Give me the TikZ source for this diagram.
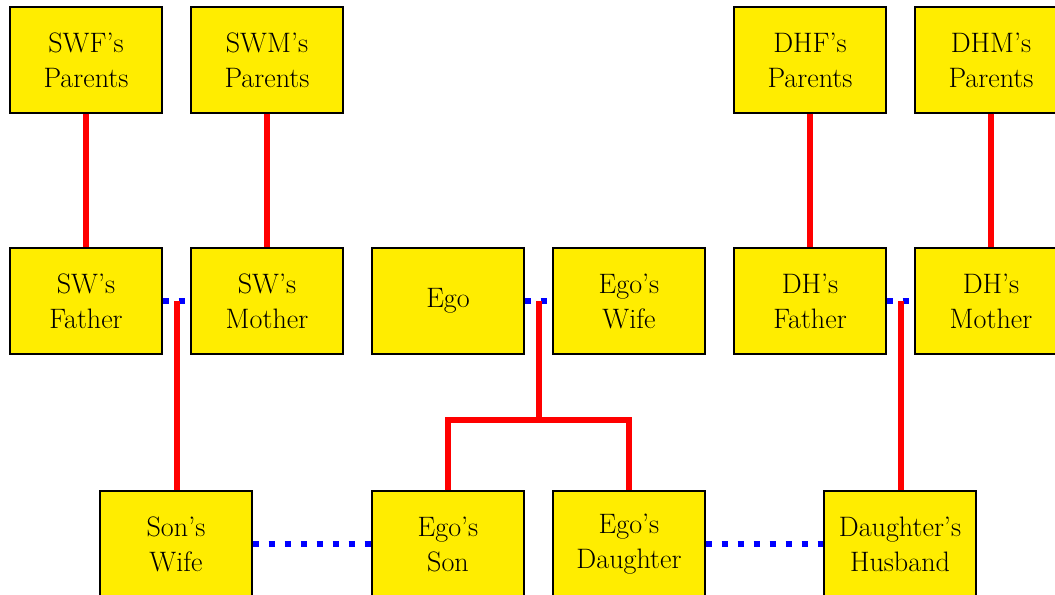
\documentclass[tikz,border=0pt]{standalone}
\usepackage{tikz}
\usetikzlibrary{calc}

\definecolor{boxyellow}{RGB}{255,237,0}

\tikzset{
	person/.style={draw=black, line width=1.4pt, fill=boxyellow, minimum width=3.78cm, minimum height=2.63cm, align=center, inner sep=0pt, font=\fontsize{20}{24.9}\selectfont},
	descent/.style={draw=red, line width=0.15cm},
	wedlock/.style={draw=blue, line width=0.15cm, dash pattern=on 0.16cm off 0.24cm},
}

\begin{document}
\begin{tikzpicture}[x=0.025cm, y=-0.025cm]
				\path[use as bounding box, clip] (0,0) rectangle (1055,594);

				% Grandparents
				\node[person] (swfp) at (86,60) {SWF's\\Parents};
				\node[person] (swmp) at (267,60) {SWM's\\Parents};
				\node[person] (dhfp) at (810,60) {DHF's\\Parents};
				\node[person] (dhmp) at (991,60) {DHM's\\Parents};

				% Parents
				\node[person] (swf) at (86,301) {SW's\\Father};
				\node[person] (swm) at (267,301) {SW's\\Mother};
				\node[person] (ego) at (448,301) {Ego};
				\node[person] (egowife) at (629,301) {Ego's\\Wife};
				\node[person] (dhf) at (810,301) {DH's\\Father};
				\node[person] (dhm) at (991,301) {DH's\\Mother};

				% Children
				\node[person] (sonwife) at (176,544) {Son's\\Wife};
				\node[person] (egoson) at (448,544) {Ego's\\Son};
				\node[person] (egodau) at (629,544) {Ego's\\Daughter};
				\node[person] (dauhusb) at (900,544) {Daughter's\\Husband};

				% Marriages
				\path[wedlock] (swf.east) -- (swm.west);
				\path[wedlock] (ego.east) -- (egowife.west);
				\path[wedlock] (dhf.east) -- (dhm.west);
				\path[wedlock] (sonwife.east) -- (egoson.west);
				\path[wedlock] (egodau.east) -- (dauhusb.west);

				\coordinate (swmid) at ($(swf.east)!0.5!(swm.west)$);
				\coordinate (egomid) at ($(ego.east)!0.5!(egowife.west)$);
				\coordinate (dhmid) at ($(dhf.east)!0.5!(dhm.west)$);
				\coordinate (sibs) at ($(egomid)+(0,119)$);

				% Descent lines
				\path[descent] (swfp.south) -- (swf.north);
				\path[descent] (swmp.south) -- (swm.north);
				\path[descent] (dhfp.south) -- (dhf.north);
				\path[descent] (dhmp.south) -- (dhm.north);
				\path[descent] (swmid) -- (swmid |- sonwife.north);
				\path[descent] (dhmid) -- (dhmid |- dauhusb.north);
				\path[descent] (egomid) -- (sibs);
				\path[descent] (egoson.north) |- (sibs) -| (egodau.north);
			\end{tikzpicture}
\end{document}
